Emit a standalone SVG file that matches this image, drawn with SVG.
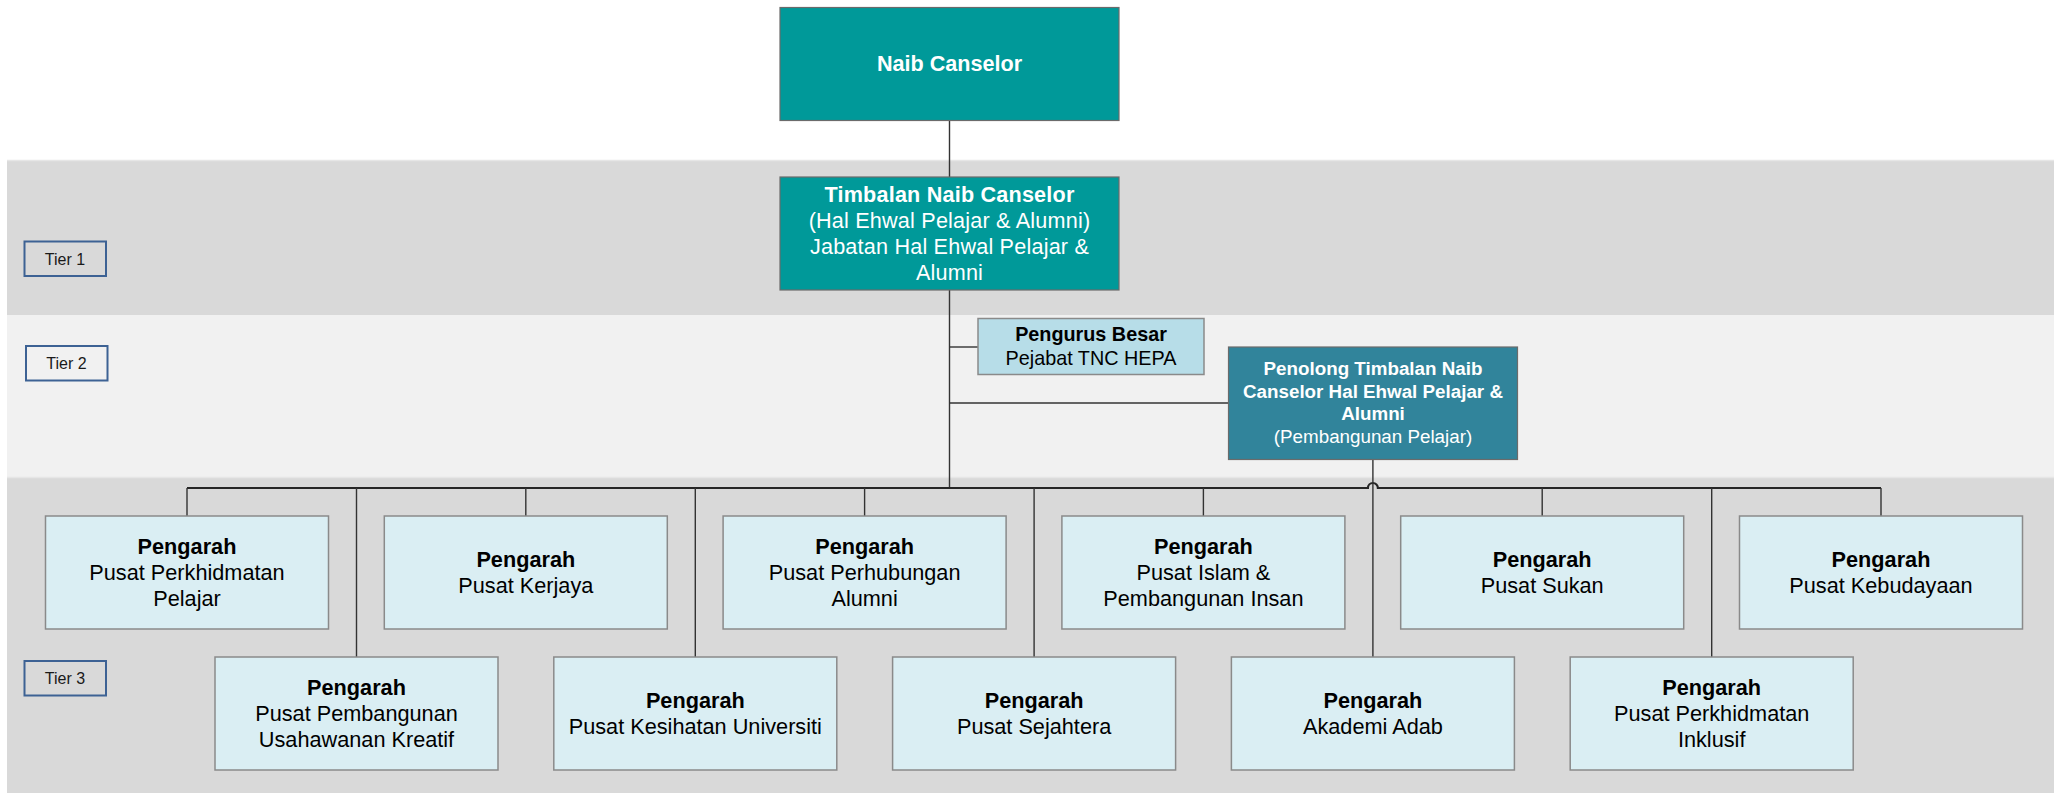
<svg xmlns="http://www.w3.org/2000/svg" width="2064" height="793" viewBox="0 0 2064 793">
<style>
text{font-family:"Liberation Sans",Arial,sans-serif;text-anchor:middle}
.band1{fill:#d9d9d9}
.band2{fill:#f1f1f1}
.bandtop{stroke:#e6e6e6;stroke-width:1.5}
.tier rect{fill:none;stroke:#3d6294;stroke-width:2}
.tier text{font-size:16px;fill:#1a1a1a}
.teal rect{fill:#009999;stroke:#6b6b6b;stroke-width:1.2}
.teal text{fill:#ffffff;font-size:21.6px}
.pen rect{fill:#31849b;stroke:#6b6b6b;stroke-width:1.2}
.pen text{fill:#ffffff;font-size:18.8px}
.pb rect{fill:#b7dde8;stroke:#8a8a8a;stroke-width:1.5}
.pb text{fill:#000000;font-size:19.8px}
.dir rect{fill:#daeef3;stroke:#8a8a8a;stroke-width:1.5}
.dir text{fill:#000000;font-size:21.7px}
.b{font-weight:bold}
#connectors path,#connectors line{fill:none;stroke:#333333;stroke-width:1.4}
#connectors .bus{stroke:#262626;stroke-width:2.2}
</style>
<g id="bands">
<rect class="band1" x="7" y="160" width="2047" height="155"/>
<line class="bandtop" x1="7" y1="160.5" x2="2054" y2="160.5"/>
<rect class="band2" x="7" y="315" width="2047" height="162"/>
<rect class="band1" x="7" y="477" width="2047" height="316"/>
<line class="bandtop" x1="7" y1="477.5" x2="2054" y2="477.5"/>
</g>
<g id="tier1" class="tier"><rect x="24.5" y="241.5" width="81.5" height="34.5"/><text x="65" y="264.5">Tier 1</text></g>
<g id="tier2" class="tier"><rect x="26" y="346" width="81.5" height="34.5"/><text x="66.5" y="369">Tier 2</text></g>
<g id="tier3" class="tier"><rect x="24.5" y="661" width="81.5" height="34.5"/><text x="65" y="684">Tier 3</text></g>
<g id="connectors">
<line x1="949.5" y1="121" x2="949.5" y2="488"/>
<line x1="949.5" y1="347" x2="978" y2="347"/>
<line x1="949.5" y1="403" x2="1228" y2="403"/>
<path class="bus" d="M187 488 H1367.9 A5 5 0 0 1 1377.9 488 H1881"/>
<line x1="187" y1="488" x2="187" y2="516"/>
<line x1="525.8" y1="488" x2="525.8" y2="516"/>
<line x1="864.6" y1="488" x2="864.6" y2="516"/>
<line x1="1203.4" y1="488" x2="1203.4" y2="516"/>
<line x1="1542.2" y1="488" x2="1542.2" y2="516"/>
<line x1="1881" y1="488" x2="1881" y2="516"/>
<line x1="356.5" y1="488" x2="356.5" y2="657"/>
<line x1="695.3" y1="488" x2="695.3" y2="657"/>
<line x1="1034.1" y1="488" x2="1034.1" y2="657"/>
<line x1="1372.9" y1="460" x2="1372.9" y2="657"/>
<line x1="1711.7" y1="488" x2="1711.7" y2="657"/>
</g>
<g id="naib" class="teal"><rect x="780" y="7.5" width="339" height="113"/><text class="b" x="949.5" y="71.2">Naib Canselor</text></g>
<g id="timbalan" class="teal"><rect x="780" y="177" width="339" height="113"/>
<text class="b" x="949.5" y="201.5" letter-spacing="0.2">Timbalan Naib Canselor</text>
<text x="949.5" y="227.5" letter-spacing="0.2">(Hal Ehwal Pelajar &amp; Alumni)</text>
<text x="949.5" y="253.5" letter-spacing="0.2">Jabatan Hal Ehwal Pelajar &amp;</text>
<text x="949.5" y="279.5" letter-spacing="0.2">Alumni</text></g>
<g id="pengurus" class="pb"><rect x="978" y="318.5" width="226" height="56"/>
<text class="b" x="1091" y="341">Pengurus Besar</text>
<text x="1091" y="364.5">Pejabat TNC HEPA</text></g>
<g id="penolong" class="pen"><rect x="1228.5" y="347" width="289" height="112.5"/>
<text class="b" x="1373" y="375">Penolong Timbalan Naib</text>
<text class="b" x="1373" y="397.5">Canselor Hal Ehwal Pelajar &amp;</text>
<text class="b" x="1373" y="420">Alumni</text>
<text x="1373" y="442.5">(Pembangunan Pelajar)</text></g>
<g id="d1" class="dir"><rect x="45.5" y="516" width="283" height="113"/><text class="b" x="187" y="553.5">Pengarah</text><text x="187" y="580">Pusat Perkhidmatan</text><text x="187" y="606.3">Pelajar</text></g>
<g id="d2" class="dir"><rect x="384.3" y="516" width="283" height="113"/><text class="b" x="525.8" y="566.5">Pengarah</text><text x="525.8" y="592.8">Pusat Kerjaya</text></g>
<g id="d3" class="dir"><rect x="723.1" y="516" width="283" height="113"/><text class="b" x="864.6" y="553.5">Pengarah</text><text x="864.6" y="580">Pusat Perhubungan</text><text x="864.6" y="606.3">Alumni</text></g>
<g id="d4" class="dir"><rect x="1061.9" y="516" width="283" height="113"/><text class="b" x="1203.4" y="553.5">Pengarah</text><text x="1203.4" y="580">Pusat Islam &amp;</text><text x="1203.4" y="606.3">Pembangunan Insan</text></g>
<g id="d5" class="dir"><rect x="1400.7" y="516" width="283" height="113"/><text class="b" x="1542.2" y="566.5">Pengarah</text><text x="1542.2" y="592.8">Pusat Sukan</text></g>
<g id="d6" class="dir"><rect x="1739.5" y="516" width="283" height="113"/><text class="b" x="1881" y="566.5">Pengarah</text><text x="1881" y="592.8">Pusat Kebudayaan</text></g>
<g id="d7" class="dir"><rect x="215" y="657" width="283" height="113"/><text class="b" x="356.5" y="694.5">Pengarah</text><text x="356.5" y="721">Pusat Pembangunan</text><text x="356.5" y="747.3">Usahawanan Kreatif</text></g>
<g id="d8" class="dir"><rect x="553.8" y="657" width="283" height="113"/><text class="b" x="695.3" y="707.5">Pengarah</text><text x="695.3" y="733.8">Pusat Kesihatan Universiti</text></g>
<g id="d9" class="dir"><rect x="892.6" y="657" width="283" height="113"/><text class="b" x="1034.1" y="707.5">Pengarah</text><text x="1034.1" y="733.8">Pusat Sejahtera</text></g>
<g id="d10" class="dir"><rect x="1231.4" y="657" width="283" height="113"/><text class="b" x="1372.9" y="707.5">Pengarah</text><text x="1372.9" y="733.8">Akademi Adab</text></g>
<g id="d11" class="dir"><rect x="1570.2" y="657" width="283" height="113"/><text class="b" x="1711.7" y="694.5">Pengarah</text><text x="1711.7" y="721">Pusat Perkhidmatan</text><text x="1711.7" y="747.3">Inklusif</text></g>
</svg>
